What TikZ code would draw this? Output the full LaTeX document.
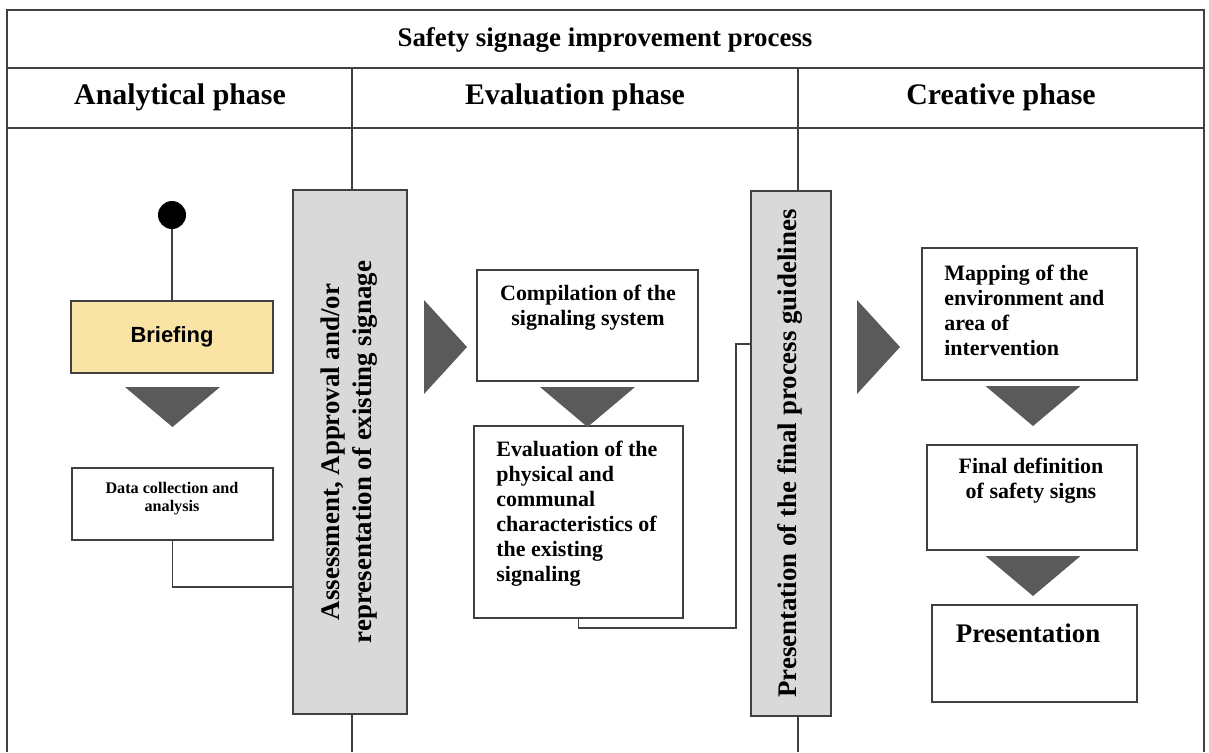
\documentclass[tikz,border=0pt]{standalone}
\usepackage{fontspec}
\setmainfont{Liberation Serif}
\newfontfamily\arialfont{Liberation Sans}
\usetikzlibrary{positioning}
\usetikzlibrary{calc}
\definecolor{brieffill}{HTML}{F9E4A6}
\definecolor{barfill}{HTML}{D9D9D9}
\definecolor{trifill}{HTML}{5A5A5A}
\definecolor{linegray}{HTML}{404040}
\def\pxu{0.02cm}

\tikzset{
  box/.style={draw=linegray, line width=0.85pt, fill=white, inner sep=0pt},
  bar/.style={box, fill=barfill},
  lbl/.style={inner sep=0pt, font=\bfseries\fontsize{12.5}{14.2}\selectfont},
  biglbl/.style={inner sep=0pt, font=\bfseries\fontsize{15.3}{18.1}\selectfont},
  tri/.style={fill=trifill},
  wire/.style={draw=linegray, line width=0.85pt},
}

\begin{document}
\begin{tikzpicture}[x=0.02cm, y=-0.02cm]
\useasboundingbox (0,0) rectangle (1209,752);

% frame and phase columns
\draw[wire] (7,752) -- (7,10) -- (1204,10) -- (1204,752);
\draw[wire] (7,68) -- (1204,68);
\draw[wire] (7,128) -- (1204,128);
\draw[wire] (352,68) -- (352,752);
\draw[wire] (798,68) -- (798,752);

\node[biglbl] (title) at (605,40) {Safety signage improvement process};
\node[biglbl, font=\bfseries\fontsize{17}{20}\selectfont] (phana) at (180,97) {Analytical phase};
\node[biglbl, font=\bfseries\fontsize{17}{20}\selectfont] (phev) at (575,97) {Evaluation phase};
\node[biglbl, font=\bfseries\fontsize{17}{20}\selectfont] (phcr) at (1001,97) {Creative phase};

% gray bars between phases
\node[bar, minimum width=114*\pxu, minimum height=524*\pxu] (bar1) at (350,452) {};
\node[biglbl, rotate=90, align=center] (bar1t) at (349,452)
  {Assessment, Approval and/or\\representation of existing signage};
\node[bar, minimum width=80*\pxu, minimum height=525*\pxu] (bar2) at (791,453.5) {};
\node[biglbl, rotate=90] (bar2t) at (790,453.5)
  {Presentation of the final process guidelines};

% analytical phase
\node[circle, fill=black, minimum size=28*\pxu, inner sep=0pt] (start) at (172,215) {};
\node[box, fill=brieffill, minimum width=202*\pxu, minimum height=72*\pxu] (brief) at (172,337)
  {\arialfont\bfseries\fontsize{12.5}{14}\selectfont Briefing};
\node[box, minimum width=201*\pxu, minimum height=72*\pxu] (data) at (172.5,504) {};
\node[lbl, font=\bfseries\fontsize{9.2}{10.3}\selectfont, align=center] (datat) at (172,499)
  {Data collection and\\analysis};

% evaluation phase
\node[box, minimum width=221*\pxu, minimum height=111*\pxu] (comp) at (587.5,325.5) {};
\node[lbl, align=center] (compt) at (588,308) {Compilation of the\\signaling system};
\node[box, minimum width=209*\pxu, minimum height=192*\pxu] (eval) at (578.5,522) {};
\node[lbl, align=left, anchor=west] (evalt) at (496,513.5)
  {Evaluation of the\\physical and\\communal\\characteristics of\\the existing\\signaling};

% creative phase
\node[box, minimum width=215*\pxu, minimum height=132*\pxu] (map) at (1029.5,314) {};
\node[lbl, align=left, anchor=west] (mapt) at (944,310.5)
  {Mapping of the\\environment and\\area of\\intervention};
\node[box, minimum width=210*\pxu, minimum height=105*\pxu] (final) at (1032,497.5) {};
\node[lbl, align=center] (finalt) at (1031,481) {Final definition\\of safety signs};
\node[box, minimum width=205*\pxu, minimum height=97*\pxu] (pres) at (1034.5,653.5) {};
\node[biglbl] (prest) at (1028,633) {Presentation};

% connectors
\coordinate (dlev) at (0,587);
\coordinate (elbow) at (736,344);
\draw[wire] (start) -- (brief);
\draw[wire] (data.south) |- (bar1.west |- dlev);
\draw[wire] (eval.south) -- ++(0,9) -| (elbow) -- (bar2.west |- elbow);

% flow triangles
\foreach \cx/\cy in {172.5/387, 587.5/387, 1033/386, 1033/556}
  \fill[tri] (\cx-47.5,\cy) -- (\cx+47.5,\cy) -- (\cx,\cy+40) -- cycle;
\foreach \cx/\cy in {424/347, 857/347}
  \fill[tri] (\cx,\cy-47) -- (\cx,\cy+47) -- (\cx+43,\cy) -- cycle;
\end{tikzpicture}
\end{document}
